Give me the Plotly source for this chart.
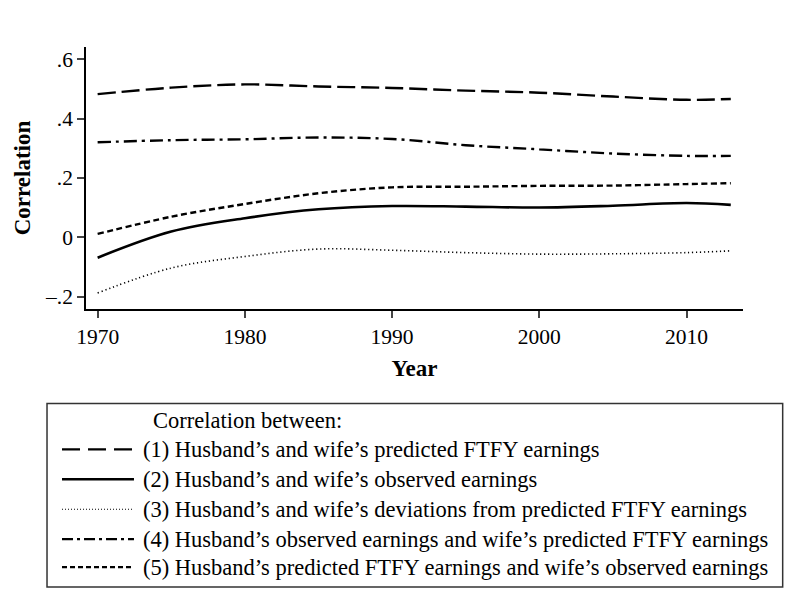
import plotly.graph_objects as go

# ---- data ----
years = [1970, 1975, 1980, 1985, 1990, 1995, 2000, 2005, 2010, 2013]
pred_ftfy = [0.482, 0.504, 0.515, 0.508, 0.503, 0.494, 0.487, 0.474, 0.463, 0.466]
observed = [-0.069, 0.019, 0.064, 0.094, 0.105, 0.103, 0.100, 0.106, 0.115, 0.109]
deviations = [-0.188, -0.104, -0.065, -0.040, -0.044, -0.052, -0.057, -0.056, -0.052, -0.046]
h_obs_w_pred = [0.320, 0.327, 0.330, 0.336, 0.331, 0.310, 0.296, 0.282, 0.274, 0.274]
h_pred_w_obs = [0.011, 0.069, 0.112, 0.148, 0.168, 0.170, 0.173, 0.174, 0.179, 0.182]

labels = [
    "(1) Husband’s and wife’s predicted FTFY earnings",
    "(2) Husband’s and wife’s observed earnings",
    "(3) Husband’s and wife’s deviations from predicted FTFY earnings",
    "(4) Husband’s observed earnings and wife’s predicted FTFY earnings",
    "(5) Husband’s predicted FTFY earnings and wife’s observed earnings",
]
legend_title = "Correlation between:"
y_tickvals = [-0.2, 0, 0.2, 0.4, 0.6]
y_ticktext = ["–.2", "0", ".2", ".4", ".6"]
x_tickvals = [1970, 1980, 1990, 2000, 2010]

series = [pred_ftfy, observed, deviations, h_obs_w_pred, h_pred_w_obs]
styles = [
    dict(dash="18px,6px", width=2.4, key_dash="18px,8px", key_width=2.4),
    dict(dash="solid", width=2.6, key_dash="solid", key_width=2.6),
    dict(dash="1.2px,2.8px", width=1.6, key_dash="1px,2px", key_width=1.1),
    dict(dash="13px,5px,3px,5px", width=2.4, key_dash="11px,4px,3px,4px", key_width=2.4),
    dict(dash="6px,3.5px", width=2.4, key_dash="5px,3px", key_width=2.4),
]

OFF = 8  # page body margin
W, H = 800 - OFF, 607 - OFF
L, R, T, B = 86 - OFF, 743.3 - OFF, 46.7 - OFF, 309.3 - OFF
FONT = "Liberation Serif"


def px(x):
    return (x - OFF - L) / (R - L)


def py(y):
    return (B - (y - OFF)) / (B - T)


fig = go.Figure()
for vals, st, lab in zip(series, styles, labels):
    fig.add_trace(go.Scatter(
        x=years, y=vals, mode="lines", name=lab, showlegend=False,
        line=dict(color="black", width=st["width"], dash=st["dash"],
                  shape="spline", smoothing=1.0),
    ))

shapes = []
annotations = []
# legend box
shapes.append(dict(type="rect", xref="paper", yref="paper",
                   x0=px(47), x1=px(783), y0=py(588), y1=py(404),
                   line=dict(color="#333333", width=1.5), fillcolor="white", layer="below"))
annotations.append(dict(xref="paper", yref="paper", x=px(151), y=py(421),
                        text=legend_title, showarrow=False, xanchor="left",
                        yanchor="middle", font=dict(family=FONT, size=22.5, color="black")))
row_y = [450, 480, 510, 540, 568]
for ry, st, lab in zip(row_y, styles, labels):
    shapes.append(dict(type="line", xref="paper", yref="paper",
                       x0=px(62), x1=px(134), y0=py(ry), y1=py(ry),
                       line=dict(color="black", width=st["key_width"], dash=st["key_dash"])))
    annotations.append(dict(xref="paper", yref="paper", x=px(141), y=py(ry),
                            text=lab, showarrow=False, xanchor="left",
                            yanchor="middle", font=dict(family=FONT, size=22.5, color="black")))

fig.update_layout(
    width=W, height=H,
    margin=dict(l=L, r=W - R, t=T, b=H - B),
    paper_bgcolor="white", plot_bgcolor="white",
    font=dict(family=FONT, size=21.5, color="black"),
    shapes=shapes, annotations=annotations,
    xaxis=dict(range=[1969.21, 2013.83], tickvals=x_tickvals,
               showgrid=False, zeroline=False, showline=True, linecolor="black",
               linewidth=1.5, ticks="outside", ticklen=7, tickwidth=1.5,
               tickfont=dict(family=FONT, size=21.5),
               title=dict(text="<b>Year</b>", font=dict(family=FONT, size=23), standoff=12)),
    yaxis=dict(range=[-0.242, 0.641], tickvals=y_tickvals, ticktext=y_ticktext,
               showgrid=False, zeroline=False, showline=True, linecolor="black",
               linewidth=1.5, ticks="outside", ticklen=7, tickwidth=1.5,
               tickfont=dict(family=FONT, size=21.5),
               title=dict(text="<b>Correlation</b>", font=dict(family=FONT, size=23), standoff=8)),
)

fig.write_html("out.html")
